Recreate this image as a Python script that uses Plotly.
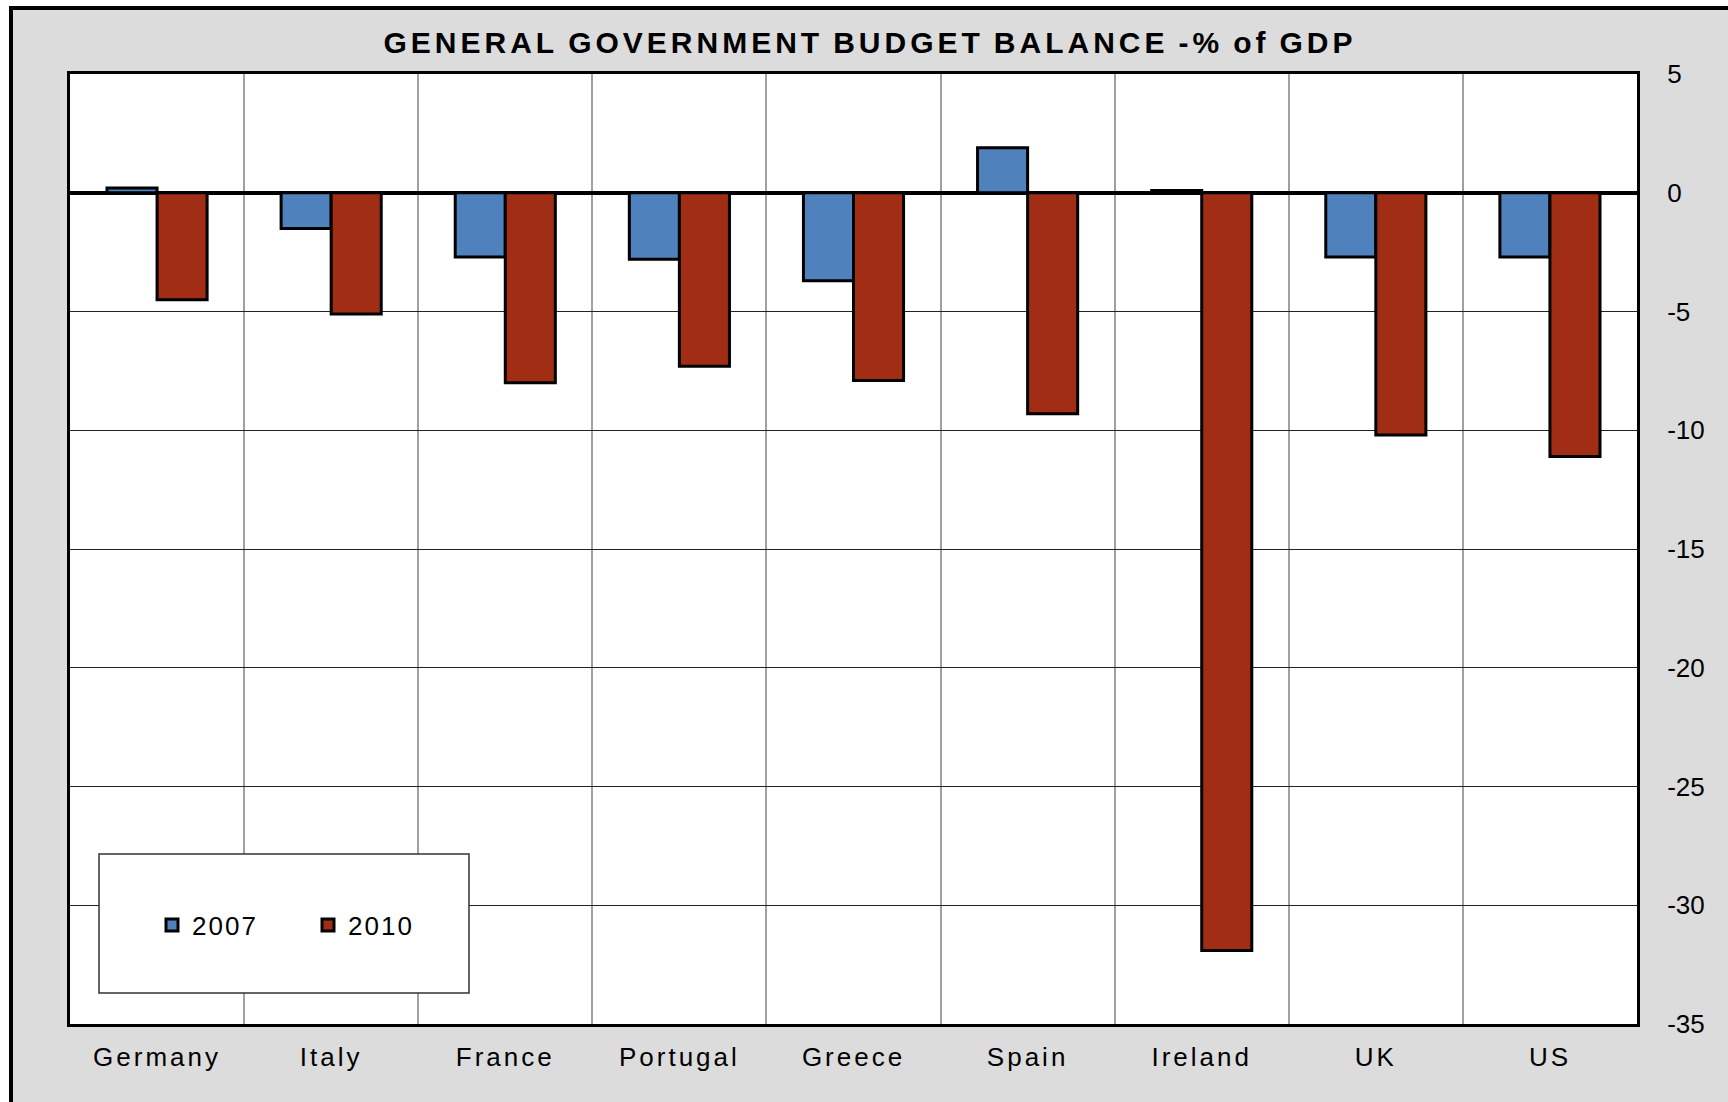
import plotly.graph_objects as go

# General government budget balance, % of GDP
countries = ["Germany", "Italy", "France", "Portugal", "Greece", "Spain", "Ireland", "UK", "US"]
balance_2007 = [0.2, -1.5, -2.7, -2.8, -3.7, 1.9, 0.1, -2.7, -2.7]
balance_2010 = [-4.5, -5.1, -8.0, -7.3, -7.9, -9.3, -31.9, -10.2, -11.1]
series_names = ["2007", "2010"]
y_tick_values = [5, 0, -5, -10, -15, -20, -25, -30, -35]
y_tick_labels = ["5", "0", "-5", "-10", "-15", "-20", "-25", "-30", "-35"]
chart_title = "GENERAL GOVERNMENT BUDGET BALANCE -% of GDP"

FONT = "Liberation Sans, Arial, sans-serif"
BLUE = "#4F81BD"
RED = "#A02D14"
FRAME_BG = "#DCDCDC"

W, H = 1728, 1102
L, R, T, B = 70, 91, 74, 78
plot_w = W - L - R
plot_h = H - T - B


def px_x(px):
    return (px - L) / plot_w


def px_y(py):
    return (H - B - py) / plot_h


def spaced(text, spacing):
    return f'<span style="letter-spacing:{spacing}px">{text}</span>'


fig = go.Figure()
for name, vals, color in zip(series_names, [balance_2007, balance_2010], [BLUE, RED]):
    fig.add_trace(go.Bar(
        name=spaced(name, 2),
        x=countries,
        y=vals,
        marker=dict(color=color, line=dict(color="black", width=3)),
    ))

title_text = spaced(chart_title.replace(" ", "\u2009"), 4)

fig.update_layout(
    width=W,
    height=H,
    margin=dict(l=L, r=R, t=T, b=B, pad=0),
    paper_bgcolor="white",
    plot_bgcolor="white",
    barmode="group",
    bargap=0.425,
    bargroupgap=0,
    font=dict(family=FONT, color="black", size=26),
    title=dict(
        text=f"<b>{title_text}</b>",
        x=870 / W, xref="container", xanchor="center",
        y=1 - 42 / H, yref="container", yanchor="middle",
        font=dict(family=FONT, size=30, color="black"),
    ),
    legend=dict(
        orientation="h",
        x=px_x(152), xanchor="left",
        y=px_y(925), yanchor="middle",
        bgcolor="rgba(0,0,0,0)",
        borderwidth=0,
        font=dict(family=FONT, size=26, color="black"),
        entrywidth=111,
        entrywidthmode="pixels",
    ),
    shapes=[
        # outer grey frame
        dict(type="rect", xref="paper", yref="paper", layer="below",
             x0=px_x(11), x1=px_x(1760), y0=px_y(8), y1=px_y(1140),
             fillcolor=FRAME_BG, line=dict(color="black", width=4)),
        # white plotting area
        dict(type="rect", xref="paper", yref="paper", layer="below",
             x0=0, x1=1, y0=0, y1=1,
             fillcolor="white", line=dict(width=0)),
        # legend box
        dict(type="rect", xref="paper", yref="paper", layer="above",
             x0=px_x(99), x1=px_x(469), y0=px_y(993), y1=px_y(854),
             fillcolor="white", line=dict(color="#333333", width=1.5)),
    ],
)

fig.update_xaxes(
    type="category",
    tickson="boundaries",
    tickvals=countries,
    ticktext=[spaced(c, 3) for c in countries],
    ticks="",
    ticklabelstandoff=8,
    showgrid=True,
    gridcolor="#A0A0A0",
    gridwidth=1.5,
    showline=True,
    linecolor="black",
    linewidth=3,
    mirror=True,
    tickfont=dict(family=FONT, size=26, color="black"),
)

fig.update_yaxes(
    side="right",
    range=[-35, 5],
    tickvals=y_tick_values,
    ticktext=y_tick_labels,
    ticks="",
    ticklabelstandoff=22,
    showgrid=True,
    gridcolor="#222222",
    gridwidth=1.2,
    zeroline=True,
    zerolinecolor="black",
    zerolinewidth=3.5,
    showline=True,
    linecolor="black",
    linewidth=3,
    mirror=True,
    tickfont=dict(family=FONT, size=26, color="black"),
)

fig.write_html("out.html")
